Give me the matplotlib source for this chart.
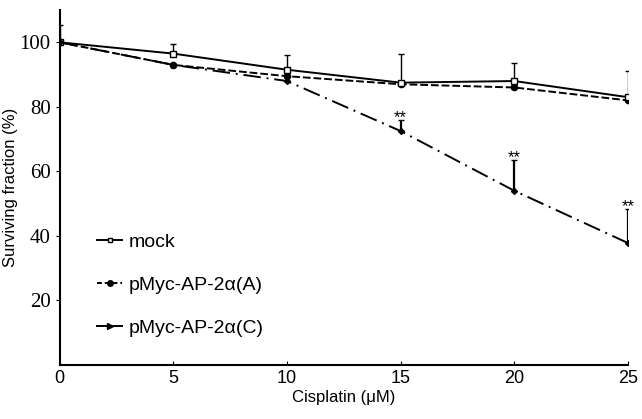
import numpy as np
import matplotlib.pyplot as plt
from matplotlib.lines import Line2D

# cisplatin dose (uM)
dose = [0, 5, 10, 15, 20, 25]

# surviving fraction (%)
mock = [100, 96.5, 91.5, 87.5, 88.0, 83.0]
mock_err = [5.5, 3.0, 4.5, 9.0, 5.5, 8.0]
aap2a = [100, 93.0, 89.5, 87.0, 86.0, 82.0]
cap2a = [100, 93.0, 88.0, 72.5, 54.0, 37.8]
cap2a_err = [0, 0, 0, 3.5, 9.5, 10.5]

stars_at = [15, 20, 25]

sans = "Liberation Sans"
serif = "Liberation Serif"

fig = plt.figure(figsize=(6.42, 4.19), dpi=100)
ax = fig.add_axes([0.093, 0.129, 0.885, 0.847])

ls_a = (0, (4, 1.5))
ls_c = (0, (9, 3, 1, 3))

ax.errorbar(dose, mock, yerr=[np.zeros(len(mock_err)), mock_err], color="black",
            lw=1.4, marker="s", ms=4, mfc="white", mec="black", capsize=2,
            elinewidth=1.0, zorder=3)
ax.plot(dose, aap2a, color="black", lw=1.4, ls=ls_a, marker="o", ms=4.5, zorder=3)
ax.errorbar(dose, cap2a, yerr=[np.zeros(len(cap2a_err)), cap2a_err], color="black",
            lw=1.4, ls=ls_c, marker="D", ms=3, capsize=2, elinewidth=1.6,
            zorder=3)

for x in stars_at:
    i = dose.index(x)
    y = cap2a[i] + cap2a_err[i]
    ax.text(x, y + 0.8, "**", ha="center", va="center", fontsize=12,
            family=sans)

ax.set_xlim(0, 25)
ax.set_ylim(0, 110)
ax.set_xticks([0, 5, 10, 15, 20, 25])
ax.set_yticks([20, 40, 60, 80, 100])
ax.spines["top"].set_visible(False)
ax.spines["right"].set_visible(False)
ax.spines["left"].set_linewidth(1.5)
ax.spines["bottom"].set_linewidth(1.5)
ax.tick_params(axis="x", direction="in", length=3, labelsize=13)
ax.tick_params(axis="y", direction="out", length=3, labelsize=15)
for lab in ax.get_xticklabels():
    lab.set_family(sans)
for lab in ax.get_yticklabels():
    lab.set_family(serif)

ax.set_xlabel("Cisplatin (μM)", fontsize=12, family=sans, labelpad=2)
ax.set_ylabel("Surviving fraction (%)", fontsize=12, family=sans, labelpad=1)

handles = [
    Line2D([], [], color="black", lw=1.4, marker="s", ms=3.5, mfc="white"),
    Line2D([], [], color="black", lw=1.4, ls=(0, (2.5, 1.5)), marker="o", ms=4),
    Line2D([], [], color="black", lw=1.4, marker=">", ms=4),
]
labels = ["mock", "pMyc-AP-2α(A)", "pMyc-AP-2α(C)"]
ax.legend(handles, labels, loc="lower left", bbox_to_anchor=(0.035, 0.03),
          frameon=False, prop={"family": sans, "size": 14}, handlelength=1.3,
          handletextpad=0.3, labelspacing=1.3)

fig.savefig("out.png", dpi=100)
